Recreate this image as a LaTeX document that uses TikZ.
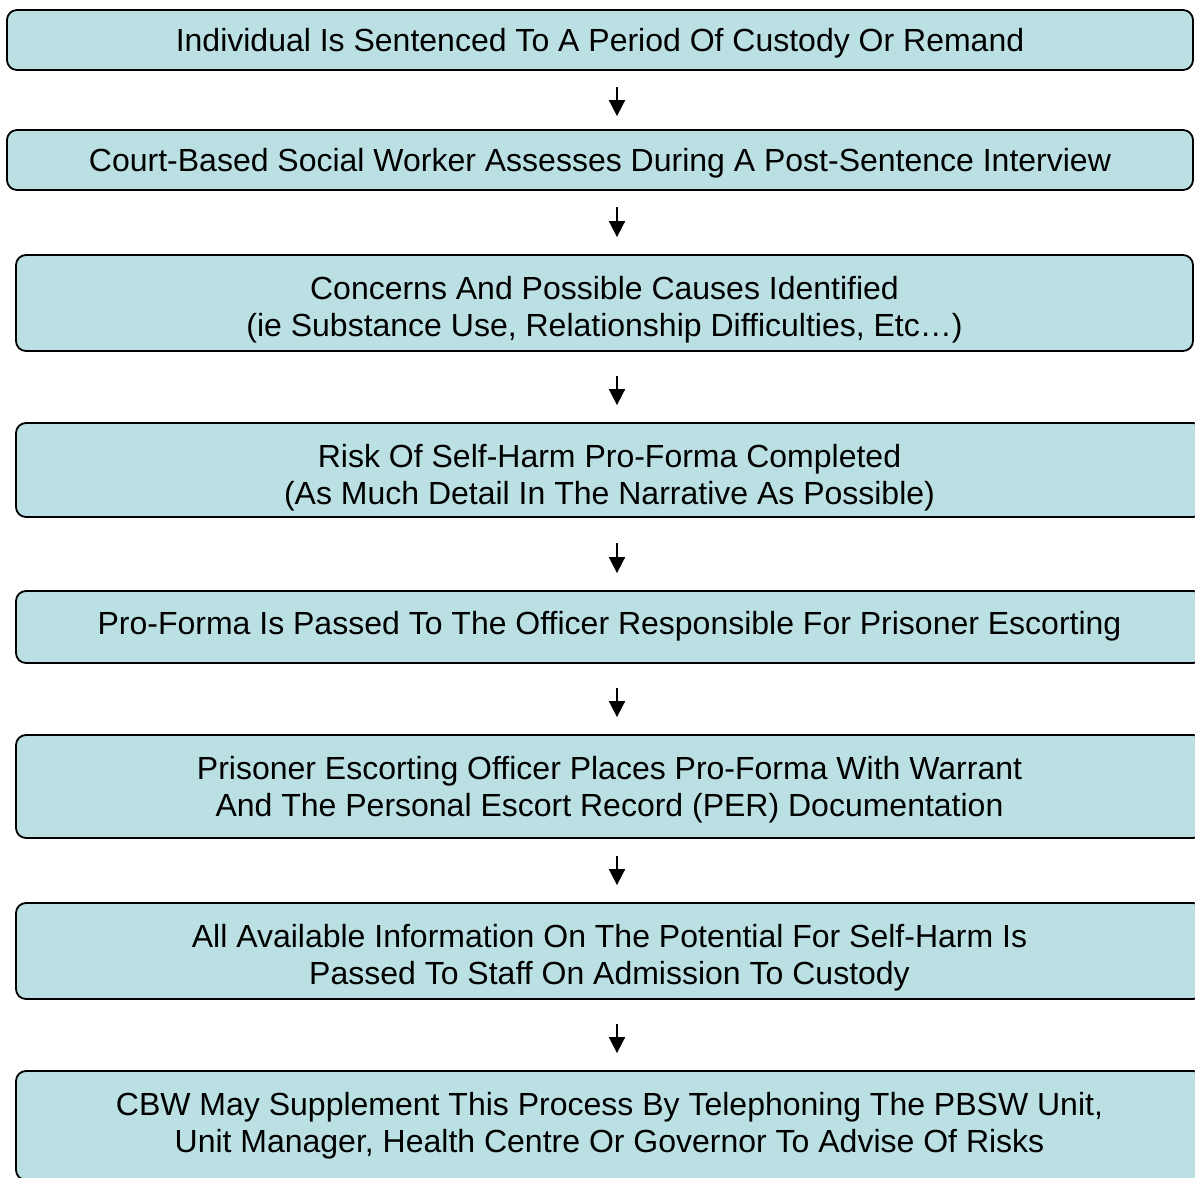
\documentclass[tikz,border=0pt]{standalone}
\usepackage{fontspec}
\setmainfont{Liberation Sans}
\usetikzlibrary{arrows.meta}
\definecolor{boxfill}{RGB}{186,224,227}
\begin{document}
\begin{tikzpicture}[x=1pt,y=-1pt,
  stepbox/.style={draw=black, line width=1.8pt, fill=boxfill, rounded corners=10pt, inner sep=0pt},
  steptext/.style={inner sep=0pt, align=center, font=\fontsize{32}{37}\selectfont},
  arr/.style 2 args={line width=1.8pt, -{Triangle[width=16pt,length=16pt]}, shorten <=#1, shorten >=#2}]
\clip (0,0) rectangle (1195,1178);
\fill[white] (0,0) rectangle (1195,1178);
\coordinate (ax) at (617,0);
\node[stepbox, minimum width=1186pt, minimum height=60pt] (b1) at (600,40) {};
\node[stepbox, minimum width=1186pt, minimum height=60pt] (b2) at (600,160) {};
\node[stepbox, minimum width=1177pt, minimum height=96pt] (b3) at (604.5,303) {};
\node[stepbox, minimum width=1187pt, minimum height=94pt] (b4) at (609.5,470) {};
\node[stepbox, minimum width=1187pt, minimum height=72pt] (b5) at (609.5,627) {};
\node[stepbox, minimum width=1187pt, minimum height=103pt] (b6) at (609.5,786.5) {};
\node[stepbox, minimum width=1187pt, minimum height=96pt] (b7) at (609.5,951) {};
\node[stepbox, minimum width=1187pt, minimum height=109pt] (b8) at (609.5,1125.5) {};
\node[steptext] (t1) at ([yshift=-3pt]b1.center)
  {Individual Is Sentenced To A Period Of Custody Or Remand};
\node[steptext] (t2) at ([yshift=-3pt]b2.center)
  {Court-Based Social Worker Assesses During A Post-Sentence Interview};
\node[steptext] (t3) at ([yshift=-7pt]b3.center)
  {Concerns And Possible Causes Identified\\(ie Substance Use, Relationship Difficulties, Etc\dots)};
\node[steptext] (t4) at ([yshift=-7.5pt]b4.center)
  {Risk Of Self-Harm Pro-Forma Completed\\(As Much Detail In The Narrative As Possible)};
\node[steptext] (t5) at ([yshift=0.5pt]b5.center)
  {Pro-Forma Is Passed To The Officer Responsible For Prisoner Escorting};
\node[steptext] (t6) at ([yshift=-3pt]b6.center)
  {Prisoner Escorting Officer Places Pro-Forma With Warrant\\And The Personal Escort Record (PER) Documentation};
\node[steptext] (t7) at ([yshift=-6.5pt]b7.center)
  {All Available Information On The Potential For Self-Harm Is\\Passed To Staff On Admission To Custody};
\node[steptext] (t8) at ([yshift=-0.5pt]b8.center)
  {CBW May Supplement This Process By Telephoning The PBSW Unit,\\Unit Manager, Health Centre Or Governor To Advise Of Risks};
\draw[arr={16pt}{13pt}] (b1.south -| ax) -- (b2.north -| ax);
\draw[arr={16pt}{17pt}] (b2.south -| ax) -- (b3.north -| ax);
\draw[arr={24pt}{17pt}] (b3.south -| ax) -- (b4.north -| ax);
\draw[arr={25pt}{17pt}] (b4.south -| ax) -- (b5.north -| ax);
\draw[arr={24pt}{17pt}] (b5.south -| ax) -- (b6.north -| ax);
\draw[arr={17pt}{17pt}] (b6.south -| ax) -- (b7.north -| ax);
\draw[arr={24pt}{17pt}] (b7.south -| ax) -- (b8.north -| ax);
\end{tikzpicture}
\end{document}
